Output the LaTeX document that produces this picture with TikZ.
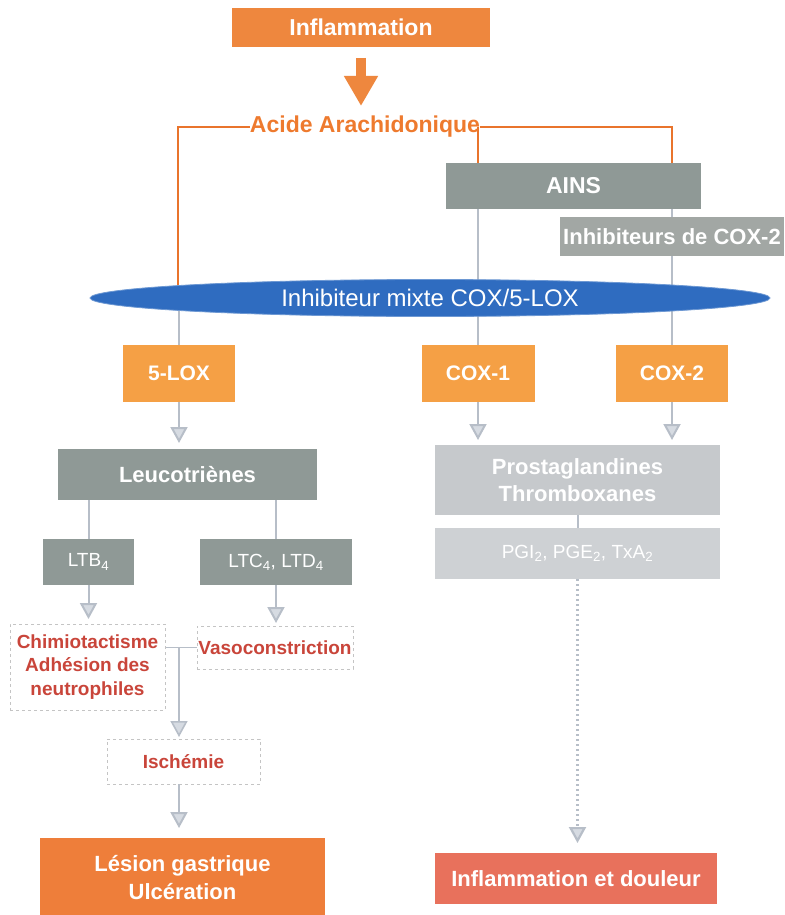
\documentclass[tikz,border=0pt]{standalone}
\usepackage{fontspec}
\setmainfont{Liberation Sans}
\usetikzlibrary{arrows.meta,shapes.geometric,backgrounds}
\definecolor{orHead}{HTML}{EE873E}
\definecolor{orBox}{HTML}{F5A045}
\definecolor{orLes}{HTML}{EE7E3A}
\definecolor{redBox}{HTML}{E8715C}
\definecolor{orLine}{HTML}{E9742C}
\definecolor{orText}{HTML}{EE7A2E}
\definecolor{greyDk}{HTML}{8F9996}
\definecolor{greyMd}{HTML}{A2A7A4}
\definecolor{greyLt}{HTML}{C6C9CC}
\definecolor{greyLt2}{HTML}{CED1D4}
\definecolor{blueEl}{HTML}{2F6CC0}
\definecolor{arrGrey}{HTML}{B7BEC8}
\definecolor{arrFill}{HTML}{D6DBE2}
\definecolor{redText}{HTML}{C9453A}
\definecolor{dashGrey}{HTML}{C4C4C4}
\begin{document}
\begin{tikzpicture}[x=1pt,y=-1pt,
  box/.style={rectangle,inner sep=0pt,outer sep=0pt,text=white,align=center},
  fbig/.style={font=\fontsize{22}{27}\selectfont\bfseries},
  fmid/.style={font=\fontsize{21}{25}\selectfont\bfseries},
  fsmall/.style={font=\fontsize{19}{23}\selectfont},
  fred/.style={font=\fontsize{19}{23.5}\selectfont\bfseries,text=redText},
  redbox/.style={rectangle,inner sep=0pt,outer sep=0pt,draw=dashGrey,dashed,line width=0.8pt,fill=white,align=center},
  oline/.style={draw=orLine,line width=2.6pt},
  gline/.style={draw=arrGrey,line width=2pt},
  garrow/.style={draw=arrGrey,line width=2pt,-{Triangle[width=17pt,length=16pt,fill=arrFill]}},
  darrow/.style={draw=arrGrey,line width=2.2pt,dash pattern=on 2pt off 3pt,-{Triangle[width=17pt,length=16pt,fill=arrFill]}},
  bigarrow/.style={draw=orHead,line width=10pt,-{Triangle[width=32pt,length=30pt]}}
]
\useasboundingbox (0,0) rectangle (784,915);

% nodes
\node[box,fill=orHead,minimum width=258pt,minimum height=39pt,font=\fontsize{23}{27}\selectfont\bfseries] (infl) at (361,27.5) {Inflammation};
\node[inner sep=0pt,outer sep=0pt,text=orText,font=\fontsize{23}{27}\selectfont\bfseries] (acide) at (365,127) {Acide Arachidonique};
\coordinate (tip) at (361,106);
\node[box,fill=greyDk,minimum width=255pt,minimum height=46pt,font=\fontsize{23}{27}\selectfont\bfseries] (ains) at (573.5,186) {AINS};
\node[box,fill=greyMd,minimum width=224pt,minimum height=39pt,font=\fontsize{22}{27}\selectfont\bfseries] (inh) at (672,236.5) {Inhibiteurs de COX-2};
\node[ellipse,inner sep=0pt,outer sep=0pt,fill=blueEl,draw=blueEl!70!white,line width=0.8pt,minimum width=680pt,minimum height=37pt,text=white,font=\fontsize{24}{28}\selectfont] (mix) at (430,298) {Inhibiteur mixte COX/5-LOX};

\node[box,fill=orBox,minimum width=112pt,minimum height=57pt,fmid] (lox) at (179,373.5) {5-LOX};
\node[box,fill=orBox,minimum width=113pt,minimum height=57pt,fmid] (cox1) at (478,373.5) {COX-1};
\node[box,fill=orBox,minimum width=112pt,minimum height=57pt,fmid] (cox2) at (672,373.5) {COX-2};

\node[box,fill=greyDk,minimum width=259pt,minimum height=51pt,fbig] (leuco) at (187.5,474.5) {Leucotriènes};
\node[box,fill=greyLt,minimum width=285pt,minimum height=70pt,fbig] (prosta) at (577.5,480) {Prostaglandines\\Thromboxanes};
\node[box,fill=greyLt2,minimum width=285pt,minimum height=51pt,fsmall] (pgi) at (577.5,553.5) {PGI\textsubscript{2}, PGE\textsubscript{2}, TxA\textsubscript{2}};

\node[box,fill=greyDk,minimum width=91pt,minimum height=46pt,fsmall] (ltb) at (88.5,562) {LTB\textsubscript{4}};
\node[box,fill=greyDk,minimum width=152pt,minimum height=46pt,fsmall] (ltc) at (276,562) {LTC\textsubscript{4}, LTD\textsubscript{4}};

\node[redbox,minimum width=155pt,minimum height=86pt,fred] (chim) at (87.5,667) {Chimiotactisme\\Adhésion des\\neutrophiles};
\node[redbox,minimum width=156pt,minimum height=43pt,fred] (vaso) at (275,647.5) {Vasoconstriction};
\coordinate (j) at (179,647.5);
\node[redbox,minimum width=153pt,minimum height=45pt,fred] (isch) at (183.5,761.5) {Ischémie};

\node[box,fill=orLes,minimum width=285pt,minimum height=80pt,font=\fontsize{22}{28}\selectfont\bfseries] (les) at (182.5,878) {Lésion gastrique\\Ulcération};
\node[box,fill=redBox,minimum width=282pt,minimum height=51pt,fbig] (doul) at (576,878.5) {Inflammation et douleur};

% connectors behind the boxes
\begin{scope}[on background layer]
  \fill[white] (0,0) rectangle (784,915);
  \draw[bigarrow,shorten <=11pt] (infl.south) -- (tip);
  \draw[oline] (acide.west) -- (178,127) coordinate (ol) -- (ol |- mix.center);
  \draw[oline] (acide.east) -- (acide.east -| cox2.north) -- (cox2.north |- ains.north);
  \draw[oline] (acide.east -| cox1.north) -- (cox1.north |- ains.north);
  \draw[gline] (ains.south -| cox1.north) -- (cox1.north);
  \draw[gline] (ains.south -| cox2.north) -- (cox2.north);
  \draw[gline] (mix.center -| lox.north) -- (lox.north);
  \draw[gline] (prosta.south) -- (pgi.north);
  \draw[gline] (leuco.south -| ltb.north) -- (ltb.north);
  \draw[gline] (leuco.south -| ltc.north) -- (ltc.north);
  \draw[gline,line width=1.6pt] (chim.east |- vaso.west) -- (vaso.west);
\end{scope}

% arrows
\draw[garrow,shorten >=6pt] (lox.south) -- (lox.south |- leuco.north);
\draw[garrow,shorten >=5pt] (cox1.south) -- (cox1.south |- prosta.north);
\draw[garrow,shorten >=5pt] (cox2.south) -- (cox2.south |- prosta.north);
\draw[garrow,shorten >=5pt] (ltb.south) -- (ltb.south |- chim.north);
\draw[garrow,shorten >=3pt] (ltc.south) -- (ltc.south |- vaso.north);
\draw[garrow,line width=1.6pt,shorten >=2pt] (j) -- (j |- isch.north);
\draw[garrow,shorten >=10pt] (j |- isch.south) -- (j |- les.north);
\draw[darrow,shorten >=10pt] (pgi.south) -- (pgi.south |- doul.north);
\end{tikzpicture}
\end{document}
